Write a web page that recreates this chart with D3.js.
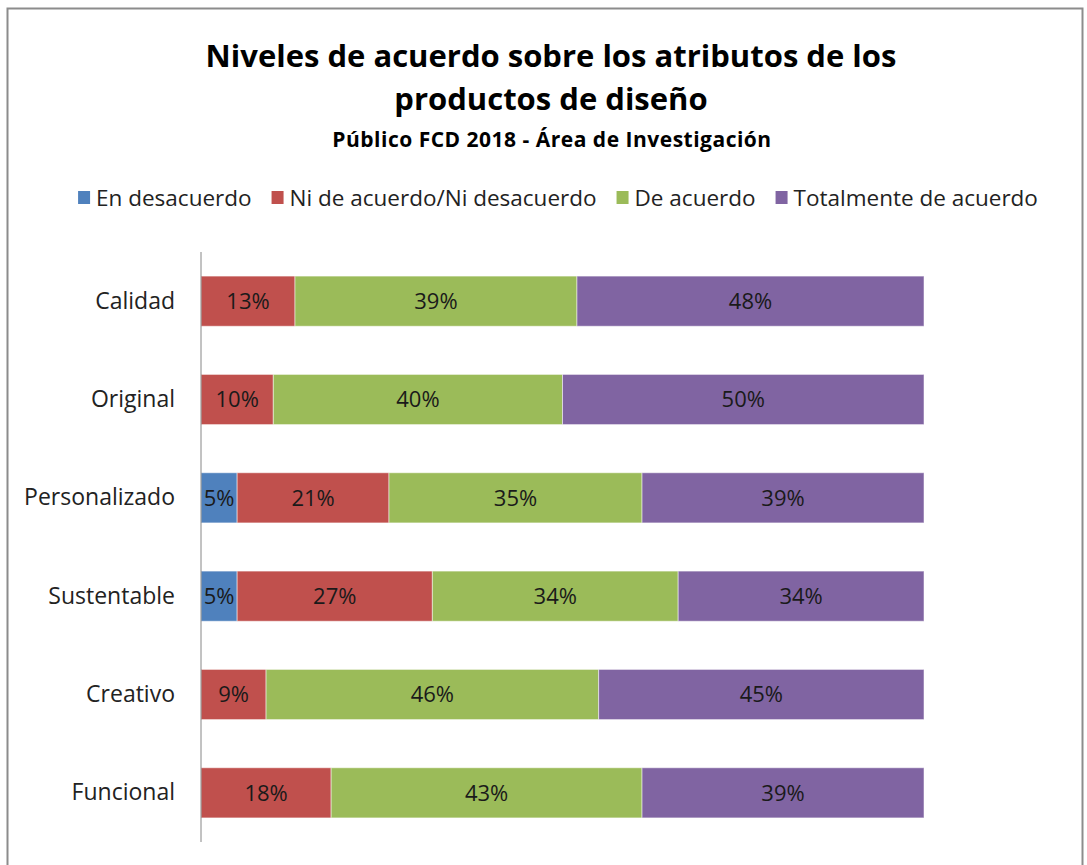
<!DOCTYPE html>
<html lang="es">
<head>
<meta charset="UTF-8">
<title>Niveles de acuerdo</title>
<script src="https://d3js.org/d3.v7.min.js"></script>
<style>
  body { margin: 0; background: #fff; }
  text { font-family: "Open Sans", "Noto Sans", sans-serif; }
</style>
</head>
<body>
<div id="chart"></div>
<script>
const categories = ["Calidad", "Original", "Personalizado", "Sustentable", "Creativo", "Funcional"];
const seriesNames = ["En desacuerdo", "Ni de acuerdo/Ni desacuerdo", "De acuerdo", "Totalmente de acuerdo"];
const enDesacuerdo = [0, 0, 5, 5, 0, 0];
const niDeAcuerdo = [13, 10, 21, 27, 9, 18];
const deAcuerdo = [39, 40, 35, 34, 46, 43];
const totalmente = [48, 50, 39, 34, 45, 39];
const colors = ["#4F81BD", "#C0504D", "#9BBB59", "#8064A2"];

const width = 1087, height = 865;
const margin = {left: 201, right: 163, top: 252, bottom: 23};

const rows = categories.map((c, i) => ({
  cat: c,
  [seriesNames[0]]: enDesacuerdo[i],
  [seriesNames[1]]: niDeAcuerdo[i],
  [seriesNames[2]]: deAcuerdo[i],
  [seriesNames[3]]: totalmente[i]
}));

const svg = d3.select("#chart").append("svg")
  .attr("width", width)
  .attr("height", height);

// chart frame
svg.append("rect")
  .attr("x", 7.5).attr("y", 8.5)
  .attr("width", 1075).attr("height", 900)
  .attr("fill", "#fff")
  .attr("stroke", "#8c8c8c")
  .attr("stroke-width", 2);

// titles
const title = svg.append("g").attr("text-anchor", "middle");
title.append("text").attr("x", 551).attr("y", 67)
  .style("font-size", "31px").style("font-weight", "bold")
  .text("Niveles de acuerdo sobre los atributos de los");
title.append("text").attr("x", 551).attr("y", 110)
  .style("font-size", "31px").style("font-weight", "bold")
  .text("productos de diseño");
title.append("text").attr("x", 552).attr("y", 147)
  .style("font-size", "21px").style("font-weight", "bold")
  .style("letter-spacing", "0.5px")
  .text("Público FCD 2018 - Área de Investigación");

// legend, items laid out one after the other and centred
const legend = svg.append("g");
const gap = 20;
let lx = 0;
seriesNames.forEach((s, i) => {
  const g = legend.append("g");
  g.append("rect").attr("x", 0).attr("y", -7).attr("width", 12).attr("height", 13)
    .attr("fill", colors[i]);
  const t = g.append("text").attr("x", 18).attr("y", 8)
    .style("font-size", "22.5px").attr("fill", "#222")
    .text(s);
  g.attr("transform", "translate(" + lx + ",0)");
  lx += 18 + t.node().getComputedTextLength() + gap;
});
const legendW = lx - gap;
legend.attr("transform", "translate(" + (558 - legendW / 2) + ",198)");

const x = d3.scaleLinear()
  .domain([0, 100])
  .range([margin.left, width - margin.right]);

const y = d3.scaleBand()
  .domain(categories)
  .range([margin.top, height - margin.bottom])
  .paddingInner(0.49)
  .paddingOuter(0.245);

const stack = d3.stack().keys(seriesNames);
const stacked = stack(rows);

const layers = svg.append("g").selectAll("g")
  .data(stacked)
  .join("g")
  .attr("fill", (d, i) => colors[i]);

layers.selectAll("rect")
  .data(d => d.filter(p => p[1] - p[0] > 0))
  .join("rect")
  .attr("x", d => x(d[0]))
  .attr("y", d => y(d.data.cat))
  .attr("width", d => x(d[1]) - x(d[0]))
  .attr("height", y.bandwidth())
  .attr("stroke", "#fff")
  .attr("stroke-opacity", 0.5)
  .attr("stroke-width", 1);

layers.selectAll("text")
  .data(d => d.filter(p => p[1] - p[0] > 0))
  .join("text")
  .attr("x", d => (x(d[0]) + x(d[1])) / 2)
  .attr("y", d => y(d.data.cat) + y.bandwidth() / 2)
  .attr("dy", "0.35em")
  .attr("text-anchor", "middle")
  .attr("fill", "#1a1a1a")
  .style("font-size", "22px")
  .text(d => (d[1] - d[0]) + "%");

// category axis
const yAxis = svg.append("g")
  .attr("transform", "translate(" + margin.left + ",0)")
  .call(d3.axisLeft(y).tickSize(0).tickPadding(26));
yAxis.select(".domain").attr("stroke", "#868686").attr("d", "M0," + margin.top + "V" + (height - margin.bottom));
yAxis.selectAll("text")
  .style("font-size", "23px")
  .attr("fill", "#222");
</script>
</body>
</html>
